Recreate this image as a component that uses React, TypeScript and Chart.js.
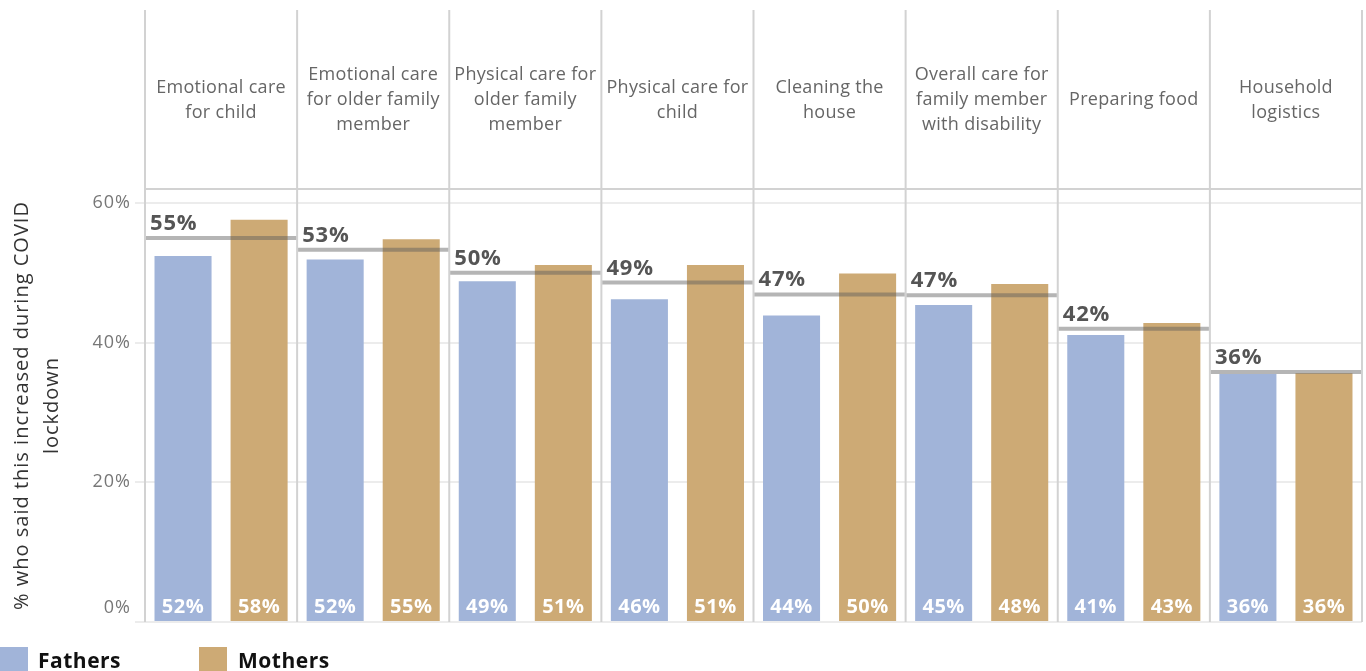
import React, { useEffect, useRef } from "react";
import { Chart, registerables } from "chart.js";

Chart.register(...registerables);

const categories: string[][] = [
  ["Emotional care", "for child"],
  ["Emotional care", "for older family", "member"],
  ["Physical care for", "older family", "member"],
  ["Physical care for", "child"],
  ["Cleaning the", "house"],
  ["Overall care for", "family member", "with disability"],
  ["Preparing food"],
  ["Household", "logistics"],
];
const fathers = [52.4, 51.9, 48.8, 46.2, 43.9, 45.4, 41.1, 35.5];
const mothers = [57.6, 54.8, 51.1, 51.1, 49.9, 48.4, 42.8, 35.6];
const averages = [55.0, 53.3, 50.0, 48.6, 46.9, 46.8, 42.0, 35.8];
const yTicks = [0, 20, 40, 60];
const yTitle = ["% who said this increased during COVID", "lockdown"];
const seriesNames = ["Fathers", "Mothers"];

const BLUE = "#a1b4d9";
const TAN = "#cdaa75";
const FONT = "'Open Sans', 'Noto Sans', sans-serif";

const decorPlugin = {
  id: "decor",
  beforeDatasetsDraw(chart: any) {
    const { ctx, chartArea } = chart;
    const x = chart.scales.x;
    const n = categories.length;
    const facetW = (chartArea.right - chartArea.left) / n;
    ctx.save();
    ctx.strokeStyle = "#d2d2d2";
    ctx.lineWidth = 2;
    for (let i = 0; i <= n; i++) {
      const px = i < n ? x.getPixelForValue(i) - facetW / 2 : x.getPixelForValue(n - 1) + facetW / 2;
      ctx.beginPath();
      ctx.moveTo(px, 10);
      ctx.lineTo(px, chartArea.bottom);
      ctx.stroke();
    }
    ctx.beginPath();
    ctx.moveTo(chartArea.left, chartArea.top);
    ctx.lineTo(chartArea.right, chartArea.top);
    ctx.stroke();
    // header labels
    ctx.fillStyle = "#666";
    ctx.font = `18px ${FONT}`;
    ctx.letterSpacing = "0.3px";
    ctx.textAlign = "center";
    ctx.textBaseline = "middle";
    const lh = 25;
    categories.forEach((lines, i) => {
      const cx = x.getPixelForValue(i);
      const start = 100 - ((lines.length - 1) * lh) / 2;
      lines.forEach((l, j) => ctx.fillText(l, cx, start + j * lh));
    });
    // y tick labels
    const y = chart.scales.y;
    ctx.fillStyle = "#777";
    ctx.font = `18px ${FONT}`;
    ctx.letterSpacing = "1px";
    ctx.textAlign = "right";
    yTicks.forEach((v) => {
      let py = y.getPixelForValue(v);
      if (v === 0) py -= 14;
      ctx.fillText(v + "%", 131, py);
    });
    // y title
    ctx.fillStyle = "#333";
    ctx.font = `20px ${FONT}`;
    ctx.letterSpacing = "1px";
    ctx.textAlign = "center";
    const cy = (chartArea.top + chartArea.bottom) / 2;
    ctx.translate(22, cy);
    ctx.rotate(-Math.PI / 2);
    ctx.fillText(yTitle[0], 0, 0);
    ctx.fillText(yTitle[1], 0, 30);
    ctx.restore();
  },
  afterDatasetsDraw(chart: any) {
    const { ctx, chartArea } = chart;
    const x = chart.scales.x;
    const y = chart.scales.y;
    const n = categories.length;
    const facetW = (chartArea.right - chartArea.left) / n;
    ctx.save();
    // bar labels
    ctx.fillStyle = "#fff";
    ctx.font = `bold 20px ${FONT}`;
    ctx.letterSpacing = "0.5px";
    ctx.textAlign = "center";
    ctx.textBaseline = "alphabetic";
    [0, 1].forEach((di) => {
      const meta = chart.getDatasetMeta(di);
      const data = di === 0 ? fathers : mothers;
      meta.data.forEach((bar: any, i: number) => {
        ctx.fillText(Math.round(data[i]) + "%", bar.x, chartArea.bottom - 9);
      });
    });
    // average lines
    averages.forEach((a, i) => {
      const left = x.getPixelForValue(i) - facetW / 2;
      const py = y.getPixelForValue(a);
      ctx.strokeStyle = "rgba(90,90,90,0.45)";
      ctx.lineWidth = 4;
      ctx.beginPath();
      ctx.moveTo(left + 1, py);
      ctx.lineTo(left + facetW - 1, py);
      ctx.stroke();
      ctx.fillStyle = "#555";
      ctx.font = `bold 22px ${FONT}`;
      ctx.letterSpacing = "0.8px";
      ctx.textAlign = "left";
      ctx.fillText(Math.round(a) + "%", left + 5, py - 8);
    });
    // legend
    ctx.fillStyle = BLUE;
    ctx.fillRect(0, 647, 28, 24);
    ctx.fillStyle = TAN;
    ctx.fillRect(199, 647, 28, 24);
    ctx.fillStyle = "#111";
    ctx.font = `bold 21px ${FONT}`;
    ctx.letterSpacing = "0.5px";
    ctx.textAlign = "left";
    ctx.fillText(seriesNames[0], 38, 668);
    ctx.fillText(seriesNames[1], 238, 668);
    ctx.restore();
  },
};

export default function App() {
  const ref = useRef<HTMLCanvasElement>(null);
  useEffect(() => {
    document.body.style.margin = "0";
    const chart = new Chart(ref.current!, {
      type: "bar",
      data: {
        labels: categories.map((c) => c.join(" ")),
        datasets: [
          { label: seriesNames[0], data: fathers, backgroundColor: BLUE, categoryPercentage: 1, barPercentage: 0.75 },
          { label: seriesNames[1], data: mothers, backgroundColor: TAN, categoryPercentage: 1, barPercentage: 0.75 },
        ],
      },
      options: {
        animation: false,
        responsive: false,
        layout: { padding: { top: 189, bottom: 49, right: 4, left: 0 } },
        plugins: { legend: { display: false }, tooltip: { enabled: false } },
        scales: {
          x: { display: false },
          y: {
            min: 0,
            max: 62,
            afterBuildTicks: (s: any) => {
              s.ticks = yTicks.map((v) => ({ value: v }));
            },
            afterFit: (s: any) => {
              s.width = 145;
            },
            ticks: { display: false },
            border: { display: false },
            grid: { color: "#ececec", lineWidth: 2, drawTicks: true, tickLength: 10 },
          },
        },
      },
      plugins: [decorPlugin],
    });
    return () => chart.destroy();
  }, []);
  return (
    <div style={{ width: 1366, height: 671 }}>
      <canvas ref={ref} width={1366} height={671} />
    </div>
  );
}
